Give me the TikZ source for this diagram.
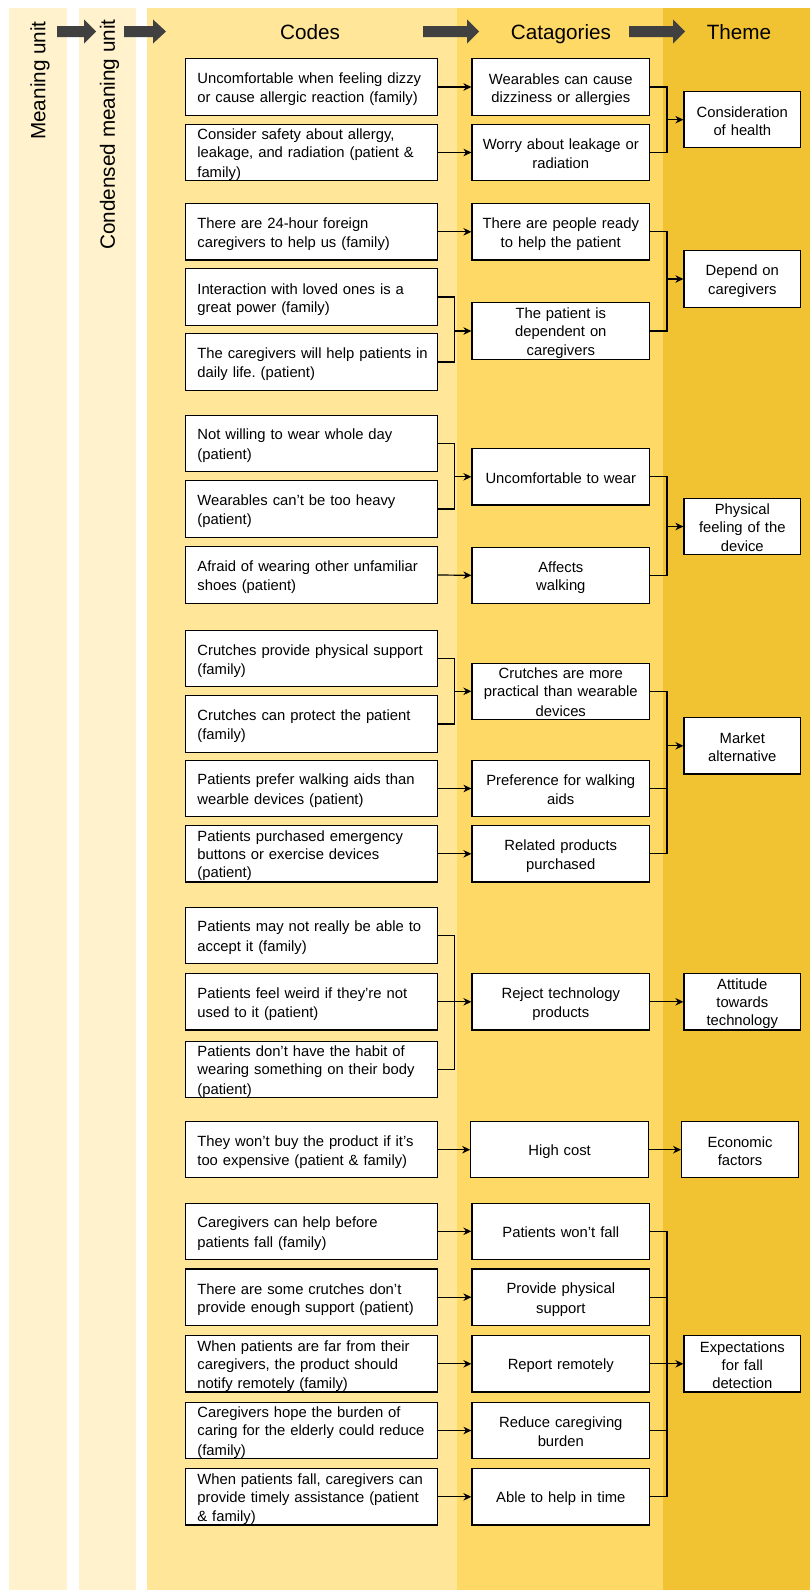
\documentclass[tikz,border=0pt]{standalone}
\usepackage{fontspec}
\setmainfont{Liberation Sans}
\usetikzlibrary{arrows.meta}
\frenchspacing
\definecolor{muc}{HTML}{FFF2CC}
\definecolor{codec}{HTML}{FFE699}
\definecolor{catc}{HTML}{FFD966}
\definecolor{themec}{HTML}{F1C232}
\definecolor{harrowc}{HTML}{404040}
\newcommand{\hdrarrow}[3]{\fill[harrowc] (#1,26) -- (#2,26) -- (#2,19.5) -- (#3,31.5) -- (#2,43.5) -- (#2,37) -- (#1,37) -- cycle;}
\newcommand{\boxstrut}{\rule[-2.7pt]{0pt}{18pt}}
\begin{document}
\begin{tikzpicture}[x=1pt,y=-1pt,
  box/.style={draw=black, line width=1.2pt, fill=white, minimum height=56.3pt, inner ysep=0pt,
    font=\fontsize{14.8}{18}\selectfont\frenchspacing,
    execute at begin node=\boxstrut, execute at end node=\boxstrut},
  codebox/.style={box, text width=228pt, inner xsep=12pt, align=left},
  catbox/.style={box, text width=167.6pt, inner xsep=5pt, align=center},
  themebox/.style={box, text width=108.6pt, inner xsep=4pt, align=center},
  link/.style={line width=1.2pt, draw=black},
  arr/.style={link, -{Stealth[length=8pt,width=7.5pt,inset=2.5pt]}},
  hdr/.style={font=\fontsize{20.7}{25}\selectfont, anchor=base, inner sep=0pt},
  vhdr/.style={font=\fontsize{20.7}{25}\selectfont, rotate=90, inner sep=0pt},
]
\useasboundingbox (0,0) rectangle (810,1590);
\fill[white] (0,0) rectangle (810,1590);
% bands
\fill[muc] (9,8) rectangle (67,1590);
\fill[muc] (79,8) rectangle (136,1590);
\fill[codec] (147,8) rectangle (457,1590);
\fill[catc] (457,8) rectangle (663,1590);
\fill[themec] (663,8) rectangle (810,1590);
% header arrows
\hdrarrow{57}{84}{96}
\hdrarrow{124}{153}{166}
\hdrarrow{423}{467}{479}
\hdrarrow{629}{673}{685}
% headers
\node[vhdr] (hmu) at (40,80.5) {Meaning unit};
\node[vhdr] (hcmu) at (109.5,134.5) {Condensed meaning unit};
\node[hdr] (hcodes) at (310,39.5) {Codes};
\node[hdr] (hcat) at (561,39.5) {Catagories};
\node[hdr] (htheme) at (739,39.5) {Theme};

% group 1
\node[codebox] (C1) at (311.4,87) {Uncomfortable when feeling dizzy\\or cause allergic reaction (family)};
\node[codebox] (C2) at (311.4,152.5) {Consider safety about allergy,\\leakage, and radiation (patient \&\\family)};
\node[catbox] (K1) at (560.8,87) {Wearables can cause\\dizziness or allergies};
\node[catbox] (K2) at (560.8,152.5) {Worry about leakage or\\radiation};
\node[themebox] (T1) at (742.3,119.7) {Consideration\\of health};
% group 2
\node[codebox] (C3) at (311.4,231.8) {There are 24-hour foreign\\caregivers to help us (family)};
\node[codebox] (C4) at (311.4,297) {Interaction with loved ones is a\\great power (family)};
\node[codebox] (C5) at (311.4,362) {\mbox{The caregivers will help patients in}\\daily life. (patient)};
\node[catbox] (K3) at (560.8,231.8) {There are people ready\\to help the patient};
\node[catbox] (K4) at (560.8,331) {The patient is\\dependent on\\caregivers};
\node[themebox] (T2) at (742.3,279) {Depend on\\caregivers};
% group 3
\node[codebox] (C6) at (311.4,443.5) {Not willing to wear whole day\\(patient)};
\node[codebox] (C7) at (311.4,509) {Wearables can’t be too heavy\\(patient)};
\node[codebox] (C8) at (311.4,575) {\mbox{Afraid of wearing other unfamiliar}\\shoes (patient)};
\node[catbox] (K5) at (560.8,476.8) {Uncomfortable to wear};
\node[catbox] (K6) at (560.8,575.3) {Affects\\walking};
\node[themebox] (T3) at (742.3,526.5) {Physical\\feeling of the\\device};
% group 4
\node[codebox] (C9) at (311.4,658.7) {\mbox{Crutches provide physical support}\\(family)};
\node[codebox] (C10) at (311.4,724) {Crutches can protect the patient\\(family)};
\node[codebox] (C11) at (311.4,788.5) {Patients prefer walking aids than\\wearble devices (patient)};
\node[codebox] (C12) at (311.4,853.8) {Patients purchased emergency\\buttons or exercise devices\\(patient)};
\node[catbox] (K7) at (560.8,691.3) {Crutches are more\\practical than wearable\\devices};
\node[catbox] (K8) at (560.8,788.5) {Preference for walking\\aids};
\node[catbox] (K9) at (560.8,853.8) {Related products\\purchased};
\node[themebox] (T4) at (742.3,745.8) {Market\\alternative};
% group 5
\node[codebox] (C13) at (311.4,935.3) {\mbox{Patients may not really be able to}\\accept it (family)};
\node[codebox] (C14) at (311.4,1001.8) {Patients feel weird if they’re not\\used to it (patient)};
\node[codebox] (C15) at (311.4,1069.3) {Patients don’t have the habit of\\\mbox{wearing something on their body}\\(patient)};
\node[catbox] (K10) at (560.8,1001.8) {Reject technology\\products};
\node[themebox] (T5) at (742.3,1001.8) {Attitude\\towards\\technology};
% group 6
\node[codebox] (C16) at (311.4,1149.7) {They won’t buy the product if it’s\\too expensive (patient \& family)};
\node[catbox] (K11) at (559.6,1149.7) {High cost};
\node[themebox] (T6) at (740,1149.7) {Economic\\factors};
% group 7
\node[codebox] (C17) at (311.4,1231.3) {Caregivers can help before\\patients fall (family)};
\node[codebox] (C18) at (311.4,1297.2) {There are some crutches don’t\\\mbox{provide enough support (patient)}};
\node[codebox] (C19) at (311.4,1363.8) {When patients are far from their\\caregivers, the product should\\notify remotely (family)};
\node[codebox] (C20) at (311.4,1430.5) {Caregivers hope the burden of\\\mbox{caring for the elderly could reduce}\\(family)};
\node[codebox] (C21) at (311.4,1496.8) {\mbox{When patients fall, caregivers can}\\\mbox{provide timely assistance (patient}\\\& family)};
\node[catbox] (K12) at (560.8,1231.3) {Patients won’t fall};
\node[catbox] (K13) at (560.8,1297.2) {Provide physical\\support};
\node[catbox] (K14) at (560.8,1363.8) {Report remotely};
\node[catbox] (K15) at (560.8,1430.5) {Reduce caregiving\\burden};
\node[catbox] (K16) at (560.8,1496.8) {Able to help in time};
\node[themebox] (T7) at (742.3,1363.8) {Expectations\\for fall\\detection};

% bracket junctions
\coordinate (m2) at (454.5,331);
\coordinate (m3) at (454.5,476.8);
\coordinate (m4) at (454.5,691.3);
\coordinate (m5) at (454.5,1001.8);
\coordinate (t1) at (667,119.7);
\coordinate (t2) at (667,279);
\coordinate (t3) at (667,526.5);
\coordinate (t4) at (667,745.8);
\coordinate (t7) at (667,1363.8);

% codes -> categories
\draw[arr] (C1.east) -- (K1.west);
\draw[arr] (C2.east) -- (K2.west);
\draw[arr] (C3.east) -- (K3.west);
\draw[link] (C4.east) -| (m2) |- (C5.east);
\draw[arr] (m2) -- (K4.west);
\draw[link] (C6.east) -| (m3) |- (C7.east);
\draw[arr] (m3) -- (K5.west);
\draw[arr] (C8.east) -- (K6.west);
\draw[link] (C9.east) -| (m4) |- (C10.east);
\draw[arr] (m4) -- (K7.west);
\draw[arr] (C11.east) -- (K8.west);
\draw[arr] (C12.east) -- (K9.west);
\draw[link] (C13.east) -| (m5) |- (C15.east);
\draw[link] (C14.east) -- (m5);
\draw[arr] (m5) -- (K10.west);
\draw[arr] (C16.east) -- (K11.west);
\draw[arr] (C17.east) -- (K12.west);
\draw[arr] (C18.east) -- (K13.west);
\draw[arr] (C19.east) -- (K14.west);
\draw[arr] (C20.east) -- (K15.west);
\draw[arr] (C21.east) -- (K16.west);

% categories -> themes
\draw[link] (K1.east) -| (t1) |- (K2.east);
\draw[arr] (t1) -- (T1.west);
\draw[link] (K3.east) -| (t2) |- (K4.east);
\draw[arr] (t2) -- (T2.west);
\draw[link] (K5.east) -| (t3) |- (K6.east);
\draw[arr] (t3) -- (T3.west);
\draw[link] (K7.east) -| (t4) |- (K9.east);
\draw[link] (K8.east) -| (t4);
\draw[arr] (t4) -- (T4.west);
\draw[arr] (K10.east) -- (T5.west);
\draw[arr] (K11.east) -- (T6.west);
\draw[link] (K12.east) -| (t7) |- (K16.east);
\draw[link] (K13.east) -| (t7);
\draw[link] (K15.east) -| (t7);
\draw[link] (K14.east) -- (t7);
\draw[arr] (t7) -- (T7.west);
\end{tikzpicture}
\end{document}
